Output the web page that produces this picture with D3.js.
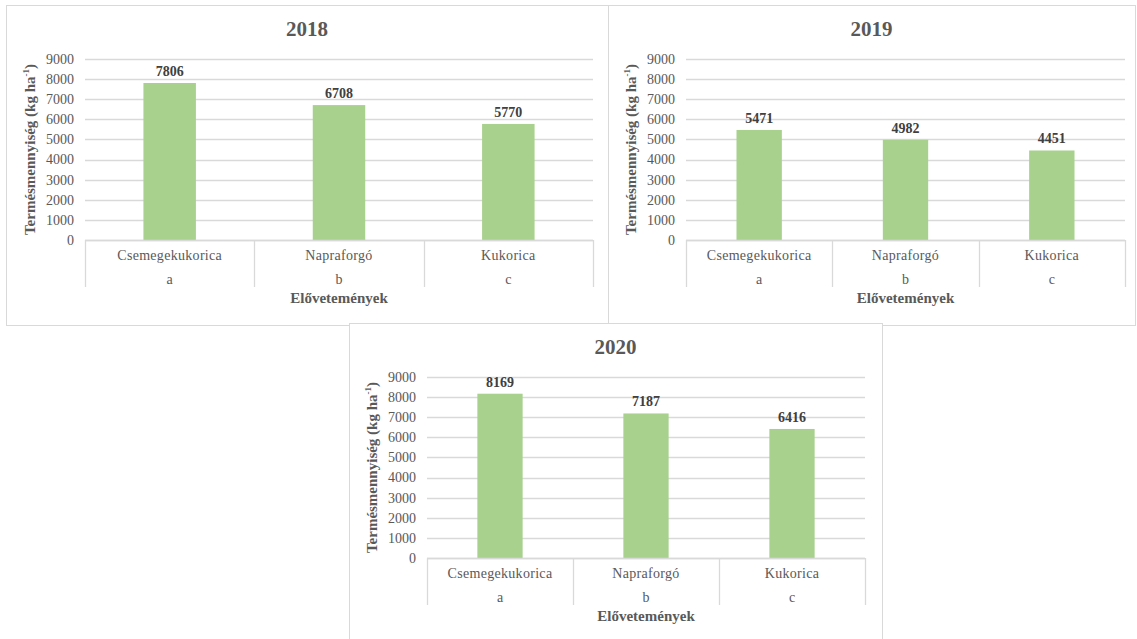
<!DOCTYPE html>
<html>
<head>
<meta charset="utf-8">
<script src="https://cdn.jsdelivr.net/npm/d3@7"></script>
<style>
  body { margin: 0; background: #fff; }
  svg { display: block; font-family: "Liberation Serif", "Times New Roman", serif; }
</style>
</head>
<body>
<svg id="chart"></svg>
<script>
var width = 1137;
var height = 639;

// data
const years = ["2018", "2019", "2020"];
const crops = ["Csemegekukorica", "Napraforgó", "Kukorica"];
const letters = ["a", "b", "c"];
const yield2018 = [7806, 6708, 5770];
const yield2019 = [5471, 4982, 4451];
const yield2020 = [8169, 7187, 6416];
const yTicks = [0, 1000, 2000, 3000, 4000, 5000, 6000, 7000, 8000, 9000];

const series = [yield2018, yield2019, yield2020];

// panel frames and plot areas
const panels = [
    {x: 6, y: 5, w: 602, h: 320, left: 85, right: 593, top: 59, bottom: 240},
    {x: 608, y: 5, w: 527, h: 320, left: 686, right: 1125, top: 59, bottom: 240},
    {x: 349, y: 323, w: 533, h: 320, left: 427, right: 865, top: 377, bottom: 558}
];

const svg = d3.select("#chart")
    .attr("width", width)
    .attr("height", height)
    .attr("viewBox", [0, 0, width, height]);

panels.forEach((p, i) => {
    const g = svg.append("g");
    const vals = series[i];

    g.append("rect")
        .attr("x", p.x + 0.5).attr("y", p.y + 0.5)
        .attr("width", p.w).attr("height", p.h)
        .attr("fill", "#fff")
        .attr("stroke", "#d9d9d9");

    const x = d3.scaleBand().domain(crops).range([p.left, p.right]);
    const y = d3.scaleLinear().domain([0, 9000]).range([p.bottom, p.top]);

    // gridlines
    g.append("g").selectAll("line")
        .data(yTicks)
        .join("line")
        .attr("x1", p.left).attr("x2", p.right)
        .attr("y1", d => Math.round(y(d)) + 0.5)
        .attr("y2", d => Math.round(y(d)) + 0.5)
        .attr("stroke", "#d9d9d9")
        .attr("stroke-width", 1.3);

    // y tick labels
    g.append("g").selectAll("text")
        .data(yTicks)
        .join("text")
        .attr("x", p.left - 11)
        .attr("y", d => y(d))
        .attr("dy", "0.35em")
        .attr("text-anchor", "end")
        .attr("font-size", 14)
        .attr("fill", "#595959")
        .text(d => d);

    // bars
    const bw = x.bandwidth() * 0.31;
    g.append("g").selectAll("rect")
        .data(crops)
        .join("rect")
        .attr("x", d => x(d) + x.bandwidth() / 2 - bw / 2)
        .attr("width", bw)
        .attr("y", (d, j) => y(vals[j]))
        .attr("height", (d, j) => y(0) - y(vals[j]))
        .attr("fill", "#a9d18e");

    // value labels
    g.append("g").selectAll("text")
        .data(crops)
        .join("text")
        .attr("x", d => x(d) + x.bandwidth() / 2)
        .attr("y", (d, j) => y(vals[j]) - 7)
        .attr("text-anchor", "middle")
        .attr("font-size", 14)
        .attr("font-weight", "bold")
        .attr("fill", "#404040")
        .text((d, j) => vals[j]);

    // category axis: baseline and separators
    g.append("line")
        .attr("x1", p.left).attr("x2", p.right)
        .attr("y1", p.bottom + 0.5).attr("y2", p.bottom + 0.5)
        .attr("stroke", "#d9d9d9").attr("stroke-width", 1.3);
    const seps = crops.map(d => x(d)).concat([p.right]);
    g.append("g").selectAll("line")
        .data(seps)
        .join("line")
        .attr("x1", d => Math.round(d) + 0.5).attr("x2", d => Math.round(d) + 0.5)
        .attr("y1", p.bottom).attr("y2", p.bottom + 47)
        .attr("stroke", "#d9d9d9").attr("stroke-width", 1.3);

    g.append("g").selectAll("text")
        .data(crops)
        .join("text")
        .attr("x", d => x(d) + x.bandwidth() / 2)
        .attr("y", p.bottom + 20)
        .attr("text-anchor", "middle")
        .attr("font-size", 14)
        .attr("letter-spacing", 0.3)
        .attr("fill", "#595959")
        .text(d => d);

    g.append("g").selectAll("text")
        .data(crops)
        .join("text")
        .attr("x", d => x(d) + x.bandwidth() / 2)
        .attr("y", p.bottom + 44)
        .attr("text-anchor", "middle")
        .attr("font-size", 14)
        .attr("fill", "#595959")
        .text((d, j) => letters[j]);

    // axis titles
    g.append("text")
        .attr("x", (p.left + p.right) / 2)
        .attr("y", p.bottom + 63)
        .attr("text-anchor", "middle")
        .attr("font-size", 15)
        .attr("font-weight", "bold")
        .attr("fill", "#595959")
        .text("Elővetemények");

    const yt = g.append("text")
        .attr("transform", `translate(${p.left - 50},${(p.top + p.bottom) / 2}) rotate(-90)`)
        .attr("text-anchor", "middle")
        .attr("font-size", 15)
        .attr("font-weight", "bold")
        .attr("fill", "#595959");
    yt.append("tspan").text("Termésmennyiség (kg ha");
    yt.append("tspan").attr("font-size", 9).attr("dy", -6).text("-1");
    yt.append("tspan").attr("dy", 6).text(")");

    // title
    g.append("text")
        .attr("x", p.x + p.w / 2)
        .attr("y", p.top - 23)
        .attr("text-anchor", "middle")
        .attr("font-size", 21)
        .attr("font-weight", "bold")
        .attr("fill", "#595959")
        .text(years[i]);
});
</script>
</body>
</html>
